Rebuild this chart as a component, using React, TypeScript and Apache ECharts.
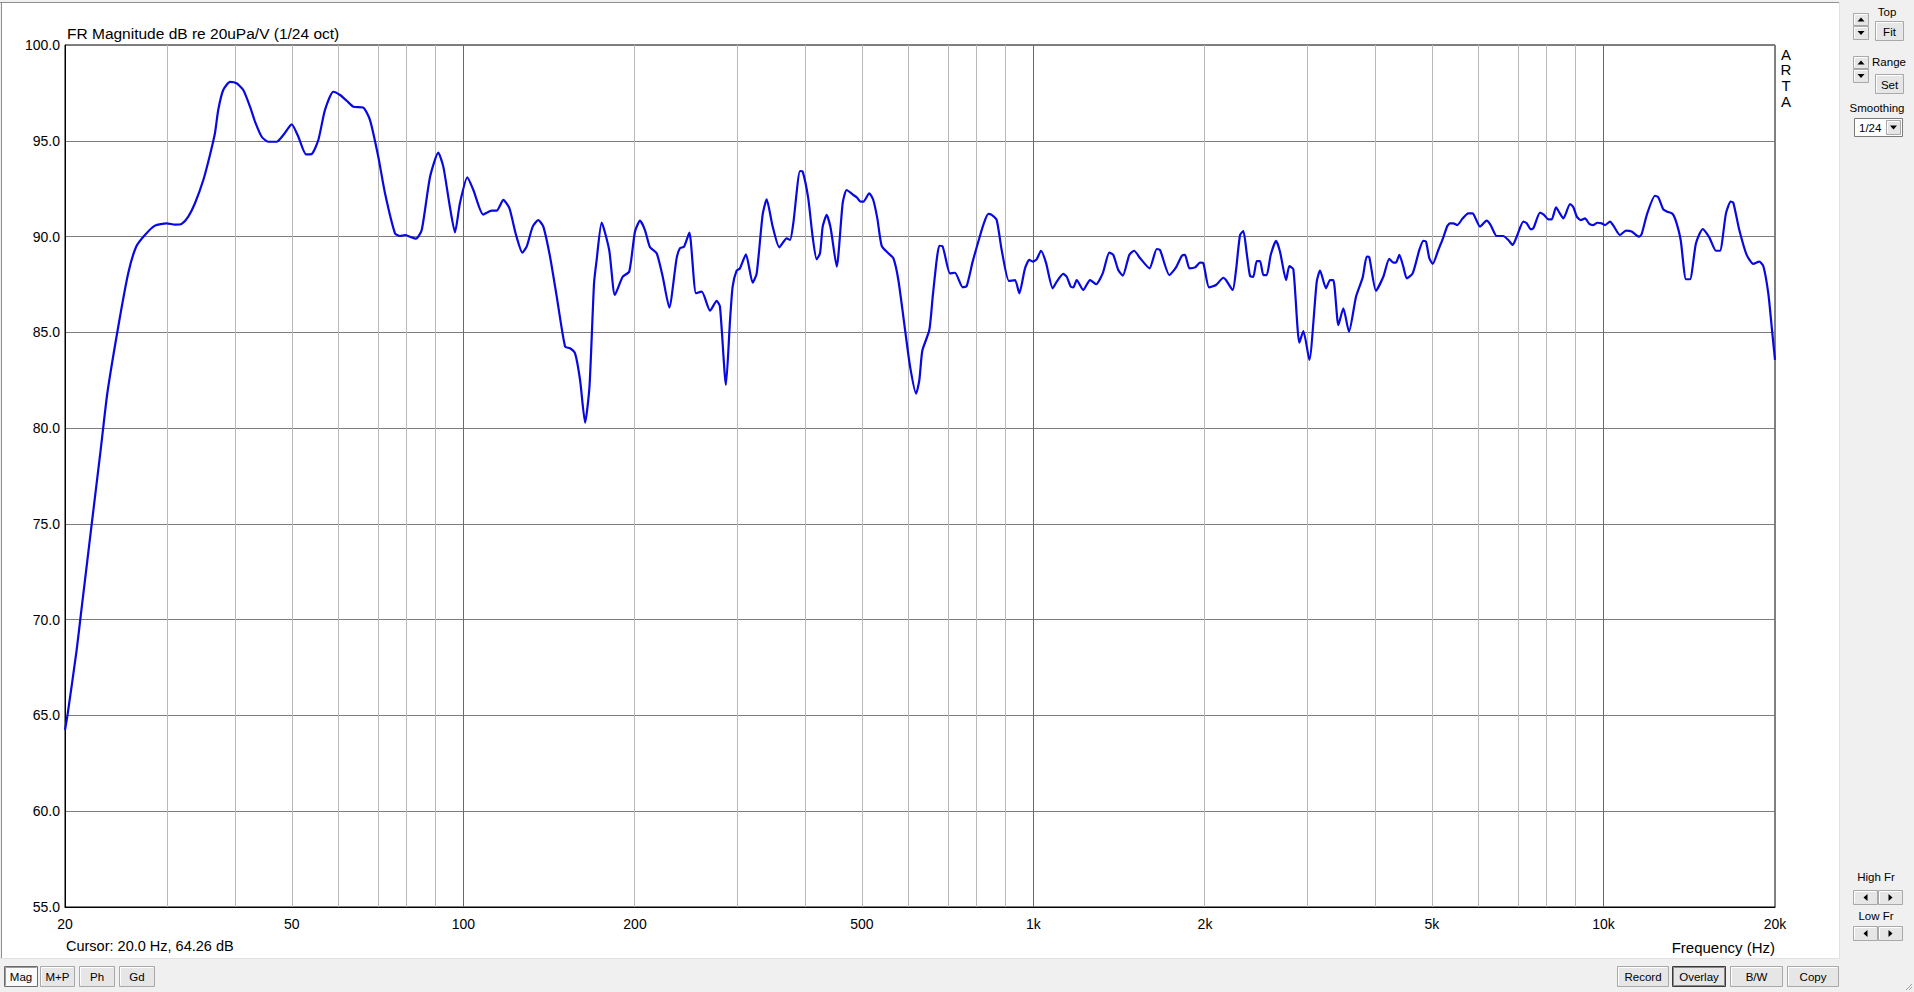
import React, { useEffect, useRef } from "react";
import * as echarts from "echarts";

// ---------------- data ----------------
const freqHz: number[] = [
  20.0, 20.2, 20.96, 21.31, 22.28, 23.1, 23.73, 24.8, 25.82, 26.66, 27.62, 28.76, 30.16, 31.19, 32.04,
  32.91, 33.81, 34.97, 35.92, 36.65, 37.14, 37.9, 38.95, 40.0, 41.1, 42.23, 43.09, 44.27, 45.47,
  47.03, 48.31, 49.98, 51.33, 52.95, 54.18, 55.65, 57.17, 59.13, 60.75, 62.41, 64.11, 66.74, 68.57,
  70.9, 72.85, 75.85, 77.4, 78.98, 80.6, 82.58, 84.5, 87.4, 90.35, 92.2, 94.46, 96.65, 98.6, 101.6,
  104.1, 108.3, 112.1, 114.4, 117.5, 120.4, 123.7, 126.9, 129.1, 132.3, 135.3, 138.1, 141.9, 145.8,
  150.8, 153.8, 157.0, 160.2, 163.5, 166.4, 169.5, 171.3, 174.8, 180.2, 184.4, 190.3, 195.4, 200,
  204.1, 208.2, 212.5, 218.3, 223.7, 229.7, 236.6, 239.8, 243.8, 249.1, 255.9, 261.9, 270.8, 278.2,
  281.9, 288.8, 293.5, 296.7, 301.5, 305.6, 313.1, 321.7, 327.0, 334.9, 340.4, 348.8, 358.3, 369.1,
  374.1, 379.1, 389.5, 393.8, 402.7, 409.9, 416.6, 422.3, 426.9, 433.8, 440.9, 451.8, 462.8, 470.3,
  483.1, 489.7, 497.7, 503.0, 515.3, 523.6, 532.3, 541.8, 556.5, 567.9, 579.5, 595.5, 607.7, 622.6,
  630.8, 638.4, 656.7, 665.8, 676.6, 683.7, 692.1, 713.9, 728.5, 751.5, 763.7, 782.4, 803.6, 816.6,
  833.4, 844.9, 862.2, 879.7, 906.0, 928.4, 944.6, 966.6, 983.5, 997.1, 1013, 1031, 1052, 1081, 1099,
  1128, 1144, 1163, 1175, 1191, 1223, 1257, 1288, 1323, 1359, 1381, 1409, 1435, 1473, 1502, 1539,
  1598, 1646, 1668, 1732, 1779, 1821, 1845, 1878, 1922, 1960, 1987, 2033, 2091, 2154, 2177, 2237,
  2267, 2304, 2335, 2367, 2399, 2431, 2465, 2498, 2532, 2566, 2608, 2665, 2708, 2775, 2812, 2858,
  2928, 2976, 3048, 3141, 3183, 3261, 3314, 3359, 3428, 3497, 3578, 3681, 3782, 3844, 3884, 3990,
  4110, 4210, 4280, 4326, 4385, 4456, 4518, 4628, 4754, 4831, 4884, 4950, 5018, 5133, 5224, 5323,
  5381, 5453, 5542, 5664, 5793, 5897, 5976, 6074, 6240, 6342, 6498, 6673, 6810, 6932, 7045, 7236,
  7336, 7455, 7535, 7741, 7867, 8006, 8116, 8259, 8370, 8506, 8740, 8857, 8980, 9126, 9284, 9447,
  9600, 9757, 9931, 10065, 10270, 10437, 10692, 10955, 11209, 11558, 11670, 11938, 12315, 12481,
  12735, 12944, 13228, 13443, 13664, 13960, 14187, 14534, 14934, 15336, 15757, 16013, 16406, 16722,
  16898, 17315, 17838, 18321, 18770, 19078, 19465, 19735, 20000,
];

const magDb: number[] = [
  64.24, 65.0, 68.4, 70.2, 75.0, 78.86, 81.82, 85.29, 88.08, 89.47, 90.08, 90.57, 90.69, 90.62, 90.66,
  91.04, 91.74, 92.95, 94.26, 95.39, 96.61, 97.65, 98.07, 98.0, 97.65, 96.78, 96.0, 95.21, 94.95,
  94.95, 95.3, 95.86, 95.21, 94.29, 94.31, 95.04, 96.61, 97.56, 97.39, 97.09, 96.78, 96.73, 96.08,
  94.17, 92.26, 90.17, 90.03, 90.08, 89.99, 89.89, 90.34, 93.12, 94.38, 93.65, 91.74, 90.22, 91.74, 93.09,
  92.43, 91.15, 91.35, 91.35, 91.91, 91.48, 90.08, 89.16, 89.47, 90.52, 90.86, 90.52, 88.95, 86.86,
  84.25, 84.17, 83.9, 82.51, 80.28, 82.16, 87.56, 88.78, 90.73, 89.3, 86.95, 87.9, 88.17, 90.26,
  90.83, 90.34, 89.44, 89.13, 87.9, 86.29, 88.86, 89.39, 89.47, 90.2, 87.04, 87.12, 86.13, 86.64,
  86.34, 82.25, 85.56, 87.39, 88.22, 88.34, 89.07, 87.59, 88.08, 91.13, 91.94, 90.52, 89.44, 89.91,
  89.82, 90.69, 93.42, 93.39, 91.99, 89.99, 88.81, 89.13, 90.52, 91.13, 90.43, 88.43, 91.74, 92.43,
  92.17, 92.05, 91.82, 91.82, 92.26, 91.91, 90.95, 89.51, 89.13, 88.87, 87.73, 85.12, 83.2, 81.8,
  82.51, 84.04, 85.12, 86.86, 88.78, 89.52, 89.51, 88.08, 88.11, 87.35, 87.42, 88.69, 89.91, 90.6,
  91.18, 91.13, 90.86, 89.3, 87.68, 87.73, 87.04, 88.34, 88.78, 88.69, 88.81, 89.26, 88.64, 87.3, 87.65,
  88.05, 87.9, 87.38, 87.35, 87.73, 87.21, 87.73, 87.51, 88.08, 89.16, 89.04, 88.25, 87.96, 89.04, 89.26, 88.87,
  88.34, 89.35, 89.3, 87.99, 88.39, 88.99, 89.04, 88.34, 88.39, 88.64, 88.6, 87.35, 87.47, 87.85, 87.73, 87.21,
  88.25, 90.08, 90.29, 89.13, 87.94, 87.9, 88.72, 88.72, 87.99, 87.99, 89.04, 89.77, 89.21, 87.73, 88.46, 88.29,
  84.46, 85.07, 83.56, 87.65, 88.22, 87.3, 87.73, 87.73, 85.38, 86.25, 85.03, 86.86, 87.87, 88.95, 88.92, 87.17,
  87.9, 88.83, 88.64, 88.64, 89.04, 88.43, 87.82, 88.08, 89.3, 89.77, 89.73, 88.87, 88.57, 89.3, 89.86, 90.55,
  90.69, 90.69, 90.6, 90.95, 91.21, 91.21, 90.9, 90.52, 90.83, 90.6, 90.03, 90.03, 89.82, 89.56, 89.99, 90.78,
  90.69, 90.38, 90.43, 91.25, 91.13, 90.9, 90.9, 91.53, 91.25, 90.95, 91.7, 91.53, 91.04, 90.86, 90.95, 90.66,
  90.6, 90.72, 90.69, 90.6, 90.78, 90.52, 90.08, 90.31, 90.26, 89.99, 90.13, 91.21, 92.13, 92.05,
  91.42, 91.3, 91.18, 90.69, 89.82, 87.77, 87.77, 89.65, 90.39, 89.96, 89.26, 89.26, 91.21, 91.82,
  91.77, 90.34, 89.04, 88.57, 88.69, 88.46, 87.04, 85.29, 83.56,
];

const xLabelFreqs = [20, 50, 100, 200, 500, 1000, 2000, 5000, 10000, 20000];
const xLabelTexts = ["20", "50", "100", "200", "500", "1k", "2k", "5k", "10k", "20k"];
const minorGridFreqs = [
  30, 40, 50, 60, 70, 80, 90, 200, 300, 400, 500, 600, 700, 800, 900,
  2000, 3000, 4000, 5000, 6000, 7000, 8000, 9000,
];
const majorGridFreqs = [100, 1000, 10000];
const yMin = 55;
const yMax = 100;
const yStep = 5;
const freqMin = 20;
const freqMax = 20000;

const titleText = "FR Magnitude dB re 20uPa/V (1/24 oct)";
const cursorText = "Cursor: 20.0 Hz, 64.26 dB";
const xAxisName = "Frequency (Hz)";
const brandLetters = ["A", "R", "T", "A"];

// ---------------- helpers ----------------
const FONT = '"Liberation Sans", Arial, sans-serif';

function txt(x: number, y: number, text: string, size: number, align = "left", valign = "middle", extra: any = {}) {
  return {
    type: "text",
    x,
    y,
    z: 20,
    style: {
      text,
      fill: "#000",
      fontSize: size,
      fontFamily: FONT,
      align,
      verticalAlign: valign,
      textAlign: align,
      textVerticalAlign: valign,
      ...extra,
    },
  };
}

function button(x: number, y: number, w: number, h: number, label: string, kind: "normal" | "pressed" | "default" = "normal", size = 11.5) {
  const face = kind === "pressed" ? "#f9f9f9" : "#e6e6e6";
  const border = kind === "default" ? "#3a3a3a" : kind === "pressed" ? "#6c6c6c" : "#a9a9a9";
  return {
    type: "group",
    x,
    y,
    z: 20,
    children: [
      { type: "rect", z: 20, shape: { x: 0.5, y: 0.5, width: w - 1, height: h - 1 }, style: { fill: face, stroke: border, lineWidth: 1 } },
      kind === "pressed"
        ? { type: "polyline", z: 21, shape: { points: [[1.5, h - 1.5], [1.5, 1.5], [w - 1.5, 1.5]] }, style: { stroke: "#9a9a9a", lineWidth: 1, fill: null } }
        : { type: "polyline", z: 21, shape: { points: [[1.5, h - 2], [1.5, 1.5], [w - 2, 1.5]] }, style: { stroke: "#ffffff", lineWidth: 1, fill: null } },
      ...(kind === "default"
        ? [{ type: "rect", z: 21, shape: { x: 1.5, y: 1.5, width: w - 3, height: h - 3 }, style: { fill: null, stroke: "#8a8a8a", lineWidth: 1 } }]
        : []),
      txt(w / 2, h / 2 + 0.5, label, size, "center", "middle"),
    ],
  };
}

function arrowBtn(x: number, y: number, w: number, h: number, dir: "up" | "down" | "left" | "right") {
  const cx = w / 2;
  const cy = h / 2;
  let pts: number[][] = [];
  if (dir === "up") pts = [[cx - 3.5, cy + 2], [cx + 3.5, cy + 2], [cx, cy - 2]];
  if (dir === "down") pts = [[cx - 3.5, cy - 2], [cx + 3.5, cy - 2], [cx, cy + 2]];
  if (dir === "left") pts = [[cx + 2, cy - 3.5], [cx + 2, cy + 3.5], [cx - 2, cy]];
  if (dir === "right") pts = [[cx - 2, cy - 3.5], [cx - 2, cy + 3.5], [cx + 2, cy]];
  return {
    type: "group",
    x,
    y,
    z: 20,
    children: [
      { type: "rect", z: 20, shape: { x: 0.5, y: 0.5, width: w - 1, height: h - 1 }, style: { fill: "#e6e6e6", stroke: "#a9a9a9", lineWidth: 1 } },
      { type: "polyline", z: 21, shape: { points: [[1.5, h - 2], [1.5, 1.5], [w - 2, 1.5]] }, style: { stroke: "#ffffff", lineWidth: 1, fill: null } },
      { type: "polygon", z: 22, shape: { points: pts }, style: { fill: "#000" } },
    ],
  };
}

function hline(x1: number, x2: number, y: number, color: string) {
  return { type: "line", z: -5, shape: { x1, y1: y, x2, y2: y }, style: { stroke: color, lineWidth: 1 } };
}
function vline(x: number, y1: number, y2: number, color: string) {
  return { type: "line", z: -5, shape: { x1: x, y1, x2: x, y2 }, style: { stroke: color, lineWidth: 1 } };
}

export default function App() {
  const ref = useRef<HTMLDivElement>(null);

  useEffect(() => {
    if (!ref.current) return;
    const chart = echarts.init(ref.current, null, { renderer: "svg" });

    const lineData = freqHz.map((f, i) => [Math.log10(f), magDb[i]]);
    const labelVals = xLabelFreqs.map((f) => Math.log10(f));

    const graphics: any[] = [
      // white measurement panel
      { type: "rect", z: -10, shape: { x: 1, y: 2, width: 1838, height: 956 }, style: { fill: "#ffffff" } },
      hline(0, 1840, 2.5, "#8e8e8e"),
      vline(1.5, 2, 958, "#8e8e8e"),
      vline(1839.5, 2, 958, "#e2e2e2"),
      hline(0, 1840, 958.5, "#e2e2e2"),
      // texts in panel
      txt(67, 33, titleText, 15.5),
      txt(66, 946, cursorText, 14.5),
      txt(1775, 947, xAxisName, 15, "right"),
      ...brandLetters.map((l, i) => txt(1786, 54 + i * 15.7, l, 15, "center")),
      // right control panel
      txt(1887, 12, "Top", 11.5, "center"),
      arrowBtn(1853, 13, 16, 13, "up"),
      arrowBtn(1853, 26, 16, 14, "down"),
      button(1875, 21, 29, 20, "Fit"),
      txt(1889, 62, "Range", 11.5, "center"),
      arrowBtn(1853, 56, 16, 13, "up"),
      arrowBtn(1853, 69, 16, 14, "down"),
      button(1875, 74, 29, 20, "Set"),
      txt(1877, 108, "Smoothing", 11.5, "center"),
      { type: "rect", z: 20, shape: { x: 1854.5, y: 118.5, width: 48, height: 18 }, style: { fill: "#ffffff", stroke: "#7a7a7a", lineWidth: 1 } },
      txt(1859, 128, "1/24", 11.5),
      arrowBtn(1886, 120, 15, 15, "down"),
      txt(1876, 877, "High Fr", 11.5, "center"),
      arrowBtn(1853, 890, 25, 15, "left"),
      arrowBtn(1878, 890, 25, 15, "right"),
      txt(1876, 916, "Low Fr", 11.5, "center"),
      arrowBtn(1853, 926, 25, 15, "left"),
      arrowBtn(1878, 926, 25, 15, "right"),
      // bottom buttons
      button(4, 966, 34, 21, "Mag", "pressed"),
      button(40, 966, 35, 21, "M+P"),
      button(79, 966, 36, 21, "Ph"),
      button(119, 966, 36, 21, "Gd"),
      button(1617, 966, 52, 21, "Record"),
      button(1672, 966, 54, 21, "Overlay", "default"),
      button(1730, 966, 53, 21, "B/W"),
      button(1787, 966, 52, 21, "Copy"),
      // resize grip
      { type: "line", z: 20, shape: { x1: 1906, y1: 990, x2: 1912, y2: 984 }, style: { stroke: "#a0a0a0", lineWidth: 1 } },
      { type: "line", z: 20, shape: { x1: 1909, y1: 990, x2: 1912, y2: 987 }, style: { stroke: "#a0a0a0", lineWidth: 1 } },
    ];

    chart.setOption({
      animation: false,
      backgroundColor: "#f0f0f0",
      textStyle: { fontFamily: FONT },
      grid: {
        left: 65,
        top: 45,
        right: 139,
        bottom: 85,
        containLabel: false,
        outerBoundsMode: "none",
        show: true,
        borderColor: "#000",
        borderWidth: 1,
        backgroundColor: "transparent",
      },
      xAxis: {
        type: "value",
        min: Math.log10(freqMin),
        max: Math.log10(freqMax),
        axisLine: { show: true, onZero: false, lineStyle: { color: "#000", width: 1 } },
        axisTick: { show: false },
        splitLine: { show: false },
        axisLabel: {
          customValues: labelVals,
          showMinLabel: true,
          showMaxLabel: true,
          margin: 10,
          color: "#000",
          fontSize: 14,
          fontFamily: FONT,
          formatter: (v: number) => {
            const idx = labelVals.findIndex((lv) => Math.abs(lv - v) < 1e-6);
            return idx >= 0 ? xLabelTexts[idx] : "";
          },
        },
      },
      yAxis: {
        type: "value",
        min: yMin,
        max: yMax,
        interval: yStep,
        axisLine: { show: true, lineStyle: { color: "#000", width: 1 } },
        axisTick: { show: false },
        splitLine: { show: true, lineStyle: { color: "#7c7c7c", width: 1 } },
        axisLabel: {
          margin: 5,
          color: "#000",
          fontSize: 14,
          fontFamily: FONT,
          formatter: (v: number) => v.toFixed(1),
        },
      },
      graphic: graphics,
      series: [
        {
          type: "line",
          z: 1,
          silent: true,
          data: [[Math.log10(freqMin), yMin]],
          showSymbol: false,
          symbol: "none",
          lineStyle: { opacity: 0 },
          markLine: {
            silent: true,
            symbol: ["none", "none"],
            label: { show: false },
            animation: false,
            lineStyle: { color: "#b8b8b8", type: "solid", width: 1 },
            data: minorGridFreqs.map((f) => ({ xAxis: Math.log10(f) })),
          },
        },
        {
          type: "line",
          z: 1,
          silent: true,
          data: [[Math.log10(freqMin), yMin]],
          showSymbol: false,
          symbol: "none",
          lineStyle: { opacity: 0 },
          markLine: {
            silent: true,
            symbol: ["none", "none"],
            label: { show: false },
            animation: false,
            lineStyle: { color: "#6a6a6a", type: "solid", width: 1 },
            data: majorGridFreqs.map((f) => ({ xAxis: Math.log10(f) })),
          },
        },
        {
          type: "line",
          z: 5,
          name: "FR Magnitude",
          data: lineData,
          showSymbol: false,
          symbol: "none",
          smooth: 0.2,
          lineStyle: { color: "#0808e0", width: 2.2 },
        },
      ],
    });

    return () => chart.dispose();
  }, []);

  return <div ref={ref} style={{ position: "fixed", left: 0, top: 0, width: 1914, height: 992 }} />;
}
